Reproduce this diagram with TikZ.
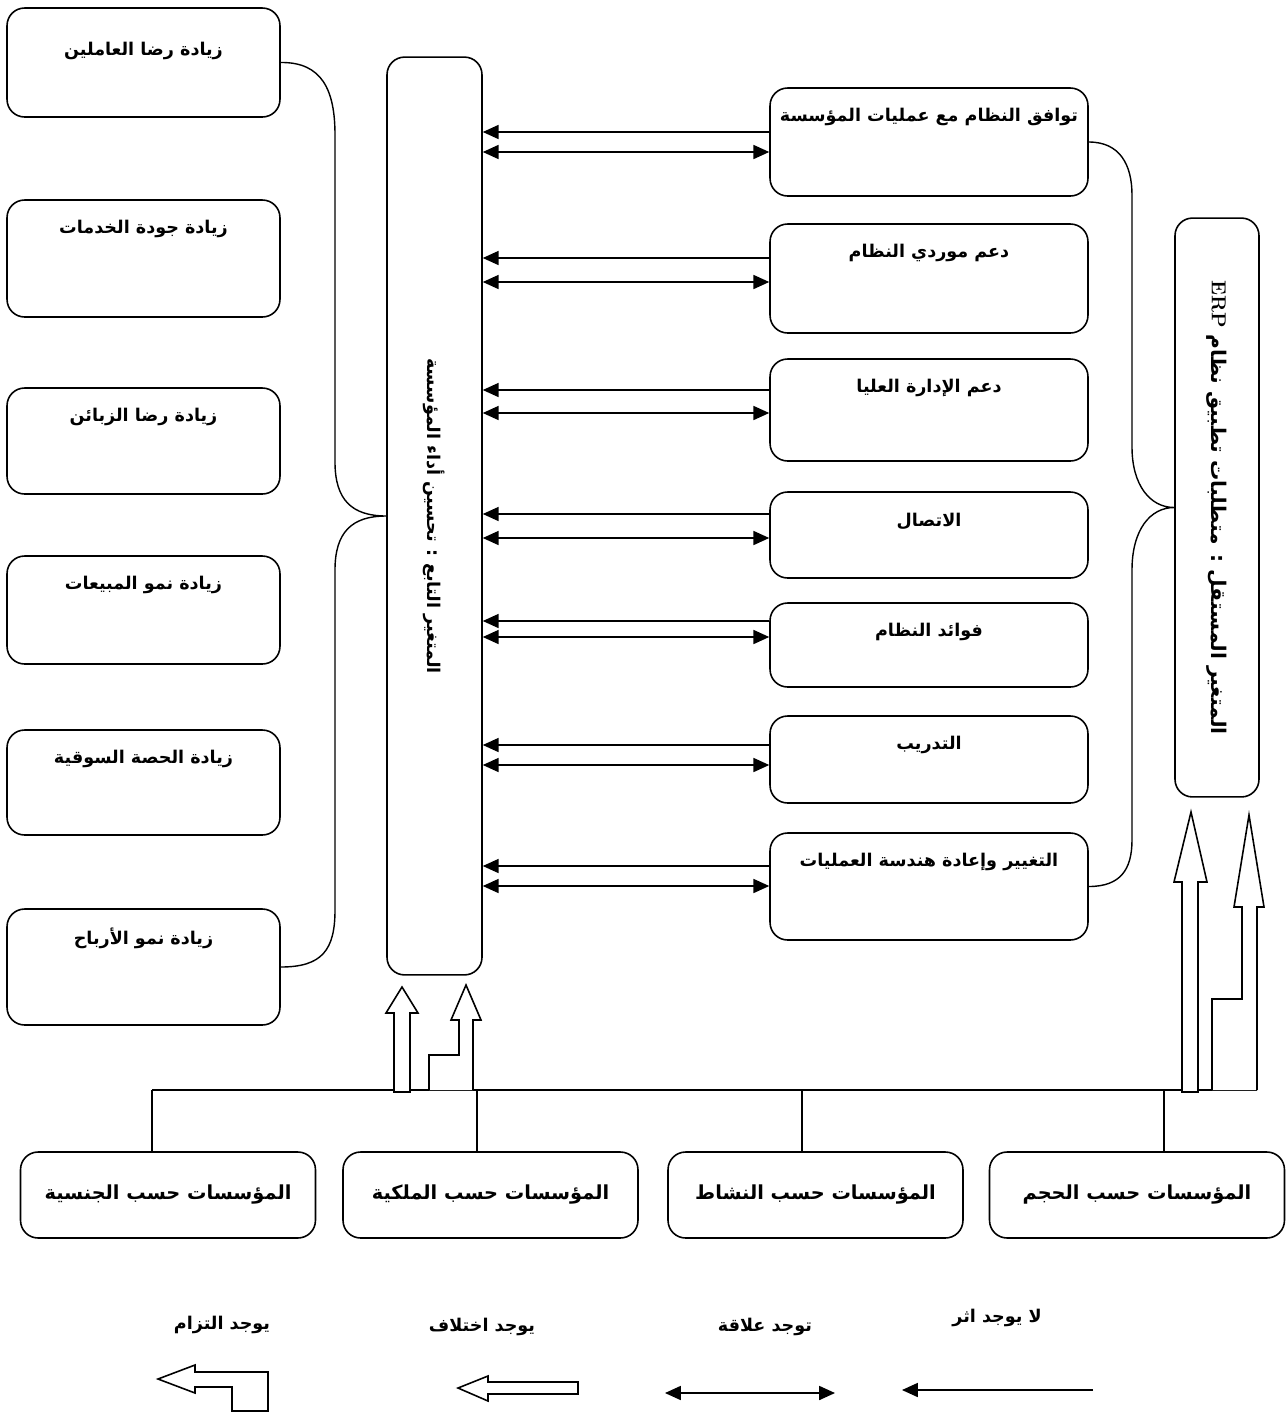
\documentclass[tikz,border=0pt]{standalone}
\usepackage{fontspec}
\usetikzlibrary{arrows.meta}
\TeXXeTstate=1
\newfontfamily\arabicfont[Script=Arabic]{DejaVu Sans}
\newcommand{\artext}[1]{{\arabicfont\bfseries\beginR #1\endR}}

\begin{document}
\begin{tikzpicture}[x=0.02cm, y=-0.02cm, line width=0.8pt,
        box/.style={draw, line width=0.9pt, rounded corners=10pt},
        lab/.style={anchor=center, yshift=-0.6cm, font=\fontsize{10}{12}\selectfont},
        vlab/.style={anchor=center, rotate=-90, font=\fontsize{10}{12}\selectfont},
        tip/.style={-{Triangle[length=9pt,width=8pt]}},
        both/.style={{Triangle[length=9pt,width=8pt]}-{Triangle[length=9pt,width=8pt]}},
        hollow/.style={draw, fill=white, line width=0.9pt, line join=miter}]
        \useasboundingbox (0,0) rectangle (1286,1417);

        % effects (left column)
        \foreach \n/\y/\h/\s/\t in {1/62.5/2.18/-0.28/{زيادة رضا العاملين}, 2/258.5/2.34/0/{زيادة جودة الخدمات},
                3/441/2.12/0/{زيادة رضا الزبائن}, 4/610/2.16/0/{زيادة نمو المبيعات},
                5/782.5/2.1/0/{زيادة الحصة السوقية}, 6/967/2.32/0/{زيادة نمو الأرباح}}
            \node [box, minimum width=5.46cm, minimum height=\h cm,
                   label={[lab, yshift=\s cm]north:\artext{\t}}] (eff\n) at (143.5,\y) {};

        % dependent variable
        \node [box, minimum width=1.9cm, minimum height=18.36cm,
               label={[vlab]center:{\arabicfont\bfseries\beginR المتغير التابع : تحسين أداء المؤسسة\endR}}] (dep) at (434.5,516) {};

        % requirements (right column)
        \foreach \n/\y/\h/\t in {1/142/2.16/{توافق النظام مع عمليات المؤسسة}, 2/278.5/2.18/{دعم موردي النظام},
                3/410/2.04/{دعم الإدارة العليا}, 4/535/1.72/{الاتصال}, 5/645/1.68/{فوائد النظام},
                6/759.5/1.74/{التدريب}, 7/886.5/2.14/{التغيير وإعادة هندسة العمليات}}
            \node [box, minimum width=6.36cm, minimum height=\h cm,
                   label={[lab]north:\artext{\t}}] (req\n) at (929,\y) {};

        % independent variable
        \node [box, minimum width=1.68cm, minimum height=11.58cm,
               label={[vlab, font=\fontsize{11.5}{13}\selectfont]center:{\arabicfont\bfseries\beginR المتغير المستقل : متطلبات  تطبيق نظام \beginL{\rmfamily ERP}\endL\endR}}] (indep) at (1217,507.5) {};

        \foreach \n/\ya/\yb in {1/132/152, 2/258/282, 3/390/413, 4/514/538, 5/621/637, 6/745/765, 7/866/886} {
            \draw [tip] (req\n.west |- 0,\ya) -- (dep.east |- 0,\ya);
            \draw [both] (dep.east |- 0,\yb) -- (req\n.west |- 0,\yb);
        }

        % braces
        \draw (eff1.east) .. controls (322,62) and (335,90) .. (335,135) -- (335,462)
            .. controls (335,500) and (352,516) .. (dep.west)
            .. controls (352,516) and (335,532) .. (335,570) -- (335,910)
            .. controls (335,950) and (322,967) .. (eff6.east);
        \draw (req1.east) .. controls (1120,142) and (1132,165) .. (1132,195) -- (1132,447)
            .. controls (1132,485) and (1150,507.5) .. (indep.west)
            .. controls (1150,507.5) and (1132,530) .. (1132,570) -- (1132,840)
            .. controls (1132,870) and (1120,886.5) .. (req7.east);

        % organisations (bottom row)
        \foreach \n/\x/\t in {1/168/{المؤسسات حسب الجنسية}, 2/490.5/{المؤسسات حسب الملكية},
                3/815.5/{المؤسسات حسب النشاط}, 4/1137/{المؤسسات حسب الحجم}}
            \node [box, minimum width=5.9cm, minimum height=1.72cm, font=\fontsize{11}{13}\selectfont] (org\n) at (\x,1195) {\artext{\t}};

        \coordinate (bl) at (152,1090);
        \coordinate (br) at (1257,1090);
        \draw [line width=0.6pt] (bl) -- (br);
        \foreach \n/\x in {1/152, 2/477, 3/802, 4/1164}
            \draw [line width=0.6pt] (\x,1090) -- (\x,1090 |- org\n.north);

        % block arrows
        \draw [hollow] (394,1092) -- (394,1013) -- (386,1013) -- (402,987) -- (418,1013) -- (410,1013) -- (410,1092) -- cycle;
        \draw [hollow] (429,1090) -- (429,1055) -- (459,1055) -- (459,1020) -- (451,1020) -- (466,985)
            -- (481,1020) -- (473,1020) -- (473,1090);
        \draw [hollow] (1182,1092) -- (1182,882) -- (1174,882) -- (1191,812) -- (1207,882) -- (1198,882) -- (1198,1092) -- cycle;
        \draw [hollow] (1212,1090) -- (1212,999) -- (1242,999) -- (1242,907) -- (1234,907) -- (1249,815)
            -- (1264,907) -- (1257,907) -- (1257,1090);

        % legend
        \node [font=\fontsize{10}{12}\selectfont] (lg1) at (222,1325) {\artext{يوجد التزام}};
        \node [font=\fontsize{10}{12}\selectfont] (lg2) at (482,1327) {\artext{يوجد اختلاف}};
        \node [font=\fontsize{10}{12}\selectfont] (lg3) at (765,1327) {\artext{توجد علاقة}};
        \node [font=\fontsize{10}{12}\selectfont] (lg4) at (997,1318) {\artext{لا يوجد اثر}};

        \draw [hollow] (158,1379) -- (195,1365) -- (195,1372) -- (268,1372) -- (268,1411) -- (232,1411)
            -- (232,1387) -- (195,1387) -- (195,1393) -- cycle;
        \draw [hollow] (458,1388) -- (488,1376) -- (488,1382) -- (578,1382) -- (578,1394) -- (488,1394) -- (488,1401) -- cycle;
        \coordinate (r1) at (665,1393);
        \coordinate (r2) at (835,1393);
        \draw [both] (r1) -- (r2);
        \coordinate (n1) at (1093,1390);
        \coordinate (n2) at (902,1390);
        \draw [tip] (n1) -- (n2);
\end{tikzpicture}
\end{document}
